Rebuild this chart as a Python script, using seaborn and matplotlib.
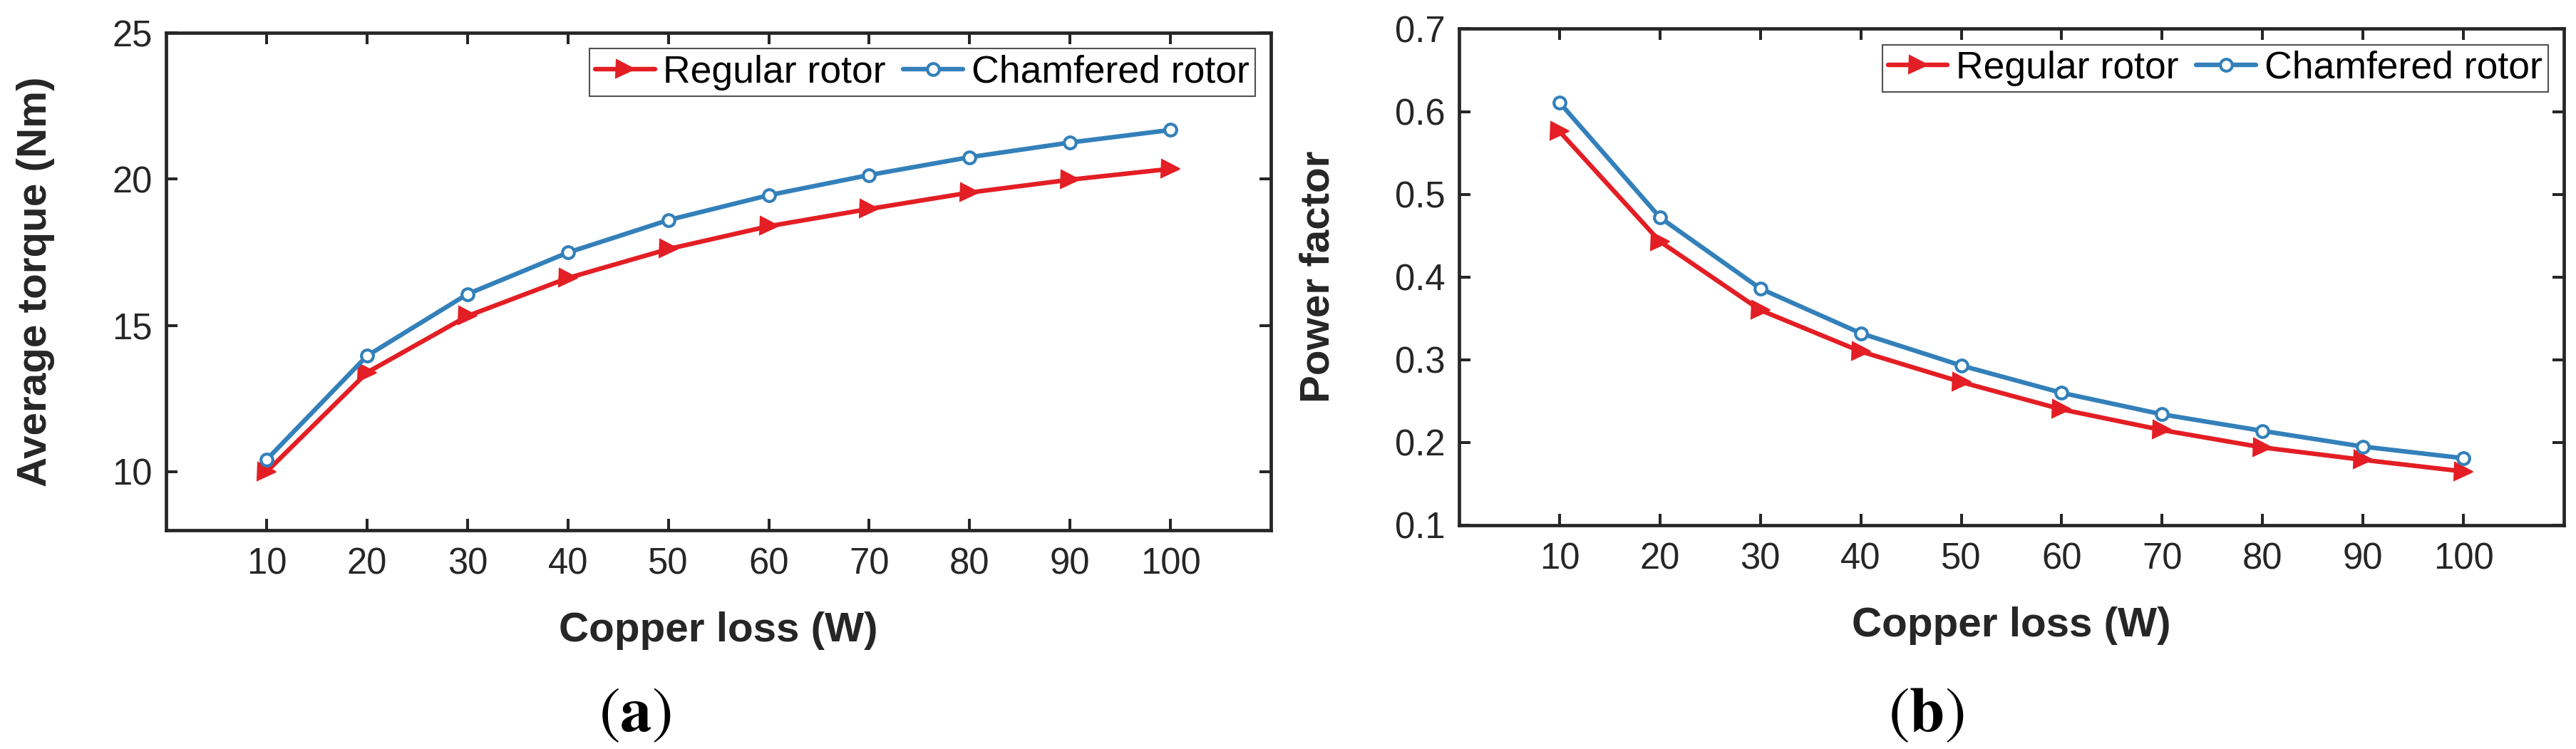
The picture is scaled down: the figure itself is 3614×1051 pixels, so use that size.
import matplotlib
matplotlib.use('agg')
import matplotlib.pyplot as plt
import seaborn as sns
import pandas as pd

# copper loss (W)
copper_loss = [10, 20, 30, 40, 50, 60, 70, 80, 90, 100]

# average torque (Nm)
torque_regular = [10.0, 13.39, 15.32, 16.62, 17.61, 18.39, 18.98, 19.54, 19.98, 20.35]
torque_chamfered = [10.41, 13.96, 16.07, 17.49, 18.60, 19.45, 20.14, 20.75, 21.25, 21.68]

# power factor
pf_regular = [0.576, 0.443, 0.360, 0.310, 0.273, 0.240, 0.215, 0.194, 0.179, 0.165]
pf_chamfered = [0.611, 0.472, 0.386, 0.332, 0.293, 0.260, 0.234, 0.214, 0.195, 0.181]

torque_ticks = [10, 15, 20, 25]
pf_ticks = [0.1, 0.2, 0.3, 0.4, 0.5, 0.6, 0.7]

RED = '#E31E24'
BLUE = '#3380BA'
INK = '#262626'

sns.set_style('ticks')
plt.rcParams['font.family'] = ['Liberation Sans', 'DejaVu Sans']
plt.rcParams['mathtext.fontset'] = 'stix'


def draw_panel(ax, y_regular, y_chamfered, ylabel, yticks, ylim, fmt):
    df = pd.DataFrame({'loss': copper_loss, 'regular': y_regular, 'chamfered': y_chamfered})
    sns.lineplot(data=df, x='loss', y='regular', ax=ax, color=RED, lw=4.6,
                 marker='>', markersize=18, markerfacecolor=RED,
                 markeredgecolor=RED, markeredgewidth=1.5, label='Regular rotor')
    sns.lineplot(data=df, x='loss', y='chamfered', ax=ax, color=BLUE, lw=4.6,
                 marker='o', markersize=12, markerfacecolor='white',
                 markeredgecolor=BLUE, markeredgewidth=3, label='Chamfered rotor')
    ax.set_xlim(0, 110)
    ax.set_ylim(*ylim)
    ax.set_xticks(copper_loss)
    ax.set_xticklabels([str(v) for v in copper_loss])
    ax.set_yticks(yticks)
    ax.set_yticklabels([fmt % v for v in yticks])
    ax.tick_params(direction='in', length=11.5, width=2.9, color=INK,
                   labelsize=36.5, labelcolor=INK, top=True, right=True)
    ax.tick_params(axis='x', pad=17)
    ax.tick_params(axis='y', pad=14)
    for sp in ax.spines.values():
        sp.set_linewidth(3.4)
        sp.set_color(INK)
        sp.set_visible(True)
    ax.set_xlabel('Copper loss (W)', fontsize=42, fontweight='bold', color=INK, labelpad=30)
    ax.set_ylabel(ylabel, fontsize=42, fontweight='bold', color=INK, labelpad=58)
    leg = ax.legend(loc='upper right', ncol=2, fontsize=38.5, frameon=True, fancybox=False,
                    borderpad=0.15, handlelength=1.57, handletextpad=0.22,
                    columnspacing=0.45, borderaxespad=0.42, numpoints=1)
    leg.get_frame().set_edgecolor(INK)
    leg.get_frame().set_linewidth(1.5)
    for t in leg.get_texts():
        t.set_color('black')


fig = plt.figure(figsize=(36.14, 10.51), dpi=100)
ax1 = fig.add_axes([0.0645, 0.2921, 0.4289, 0.6641])
ax2 = fig.add_axes([0.5664, 0.2988, 0.4289, 0.6627])

draw_panel(ax1, torque_regular, torque_chamfered, 'Average torque (Nm)',
           torque_ticks, (8, 25), '%d')
draw_panel(ax2, pf_regular, pf_chamfered, 'Power factor',
           pf_ticks, (0.1, 0.7), '%.1f')

fig.text(0.2465, 0.024, r'$(\mathbf{a})$', fontsize=64, ha='center', va='baseline', color='black')
fig.text(0.7477, 0.024, r'$(\mathbf{b})$', fontsize=64, ha='center', va='baseline', color='black')

fig.savefig('out.png', dpi=100, facecolor='white')
